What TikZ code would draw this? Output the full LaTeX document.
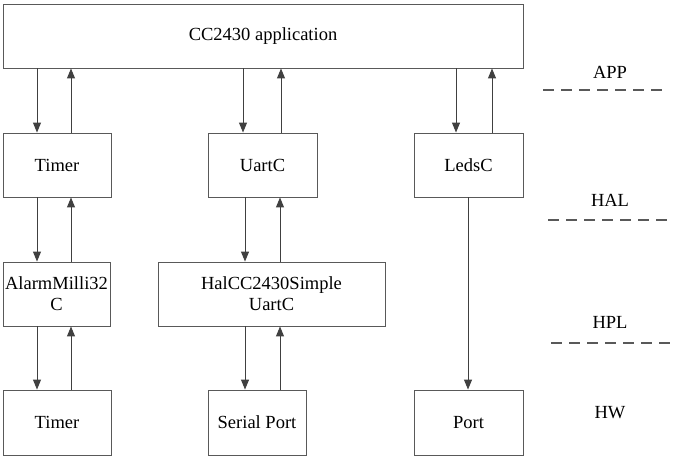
\documentclass[tikz,border=0pt]{standalone}
\usepackage{fontspec}
\setmainfont{Liberation Serif}
\usetikzlibrary{arrows.meta}

\begin{document}
\begin{tikzpicture}[x=1pt,y=-1pt]
\tikzstyle{block}=[draw=black!65,line width=.9pt,inner sep=2pt,
  align=center,font=\fontsize{18.5}{21}\selectfont]
\tikzstyle{arr}=[draw=black!75,line width=1pt,-{Triangle[length=10pt,width=8pt]}]
\tikzstyle{layer}=[font=\fontsize{18.5}{21}\selectfont]
\tikzstyle{sep}=[draw=black!65,line width=1.2pt,dash pattern=on 11pt off 7pt]

\useasboundingbox (0,0) rectangle (676,458);

%application box
\node[block,minimum width=520pt,minimum height=64pt] (app) at (263,36) {CC2430 application};

%HAL row
\node[block,minimum width=108pt,minimum height=64pt] (timer1) at (57,165) {Timer};
\node[block,minimum width=109pt,minimum height=64pt] (uart) at (262.5,165) {UartC};
\node[block,minimum width=109pt,minimum height=64pt] (leds) at (468.5,165) {LedsC};

%HPL row
\node[block,minimum width=107pt,minimum height=64pt] (alarm) at (56.5,294) {AlarmMilli32\\C};
\node[block,minimum width=227pt,minimum height=64pt] (halu) at (271.5,294) {HalCC2430Simple\\UartC};

%hardware row
\node[block,minimum width=108pt,minimum height=65pt] (timer2) at (57,422.5) {Timer};
\node[block,minimum width=98pt,minimum height=65pt] (serial) at (257,422.5) {Serial Port};
\node[block,minimum width=109pt,minimum height=65pt] (port) at (468.5,422.5) {Port};

%arrow pairs between layers
\foreach \a/\b/\xd/\xu in {app/timer1/37/71, app/uart/243/281, app/leds/456/492,
  timer1/alarm/37/71, uart/halu/245/280, alarm/timer2/37/71, halu/serial/245/280}
{
  \draw[arr] (\a.south -| \xd,0) -- (\b.north -| \xd,0);
  \draw[arr] (\b.north -| \xu,0) -- (\a.south -| \xu,0);
}
\draw[arr] (leds.south -| 468,0) -- (port.north -| 468,0);

%layer names and separators
\node[layer] (app-l) at (610,72) {APP};
\node[layer] (hal-l) at (610,200) {HAL};
\node[layer] (hpl-l) at (610,322) {HPL};
\node[layer] (hw-l) at (610,413) {HW};
\draw[sep] (543,90) -- (666,90);
\draw[sep] (548,220) -- (673,220);
\draw[sep] (551,343) -- (673,343);

\end{tikzpicture}
\end{document}
